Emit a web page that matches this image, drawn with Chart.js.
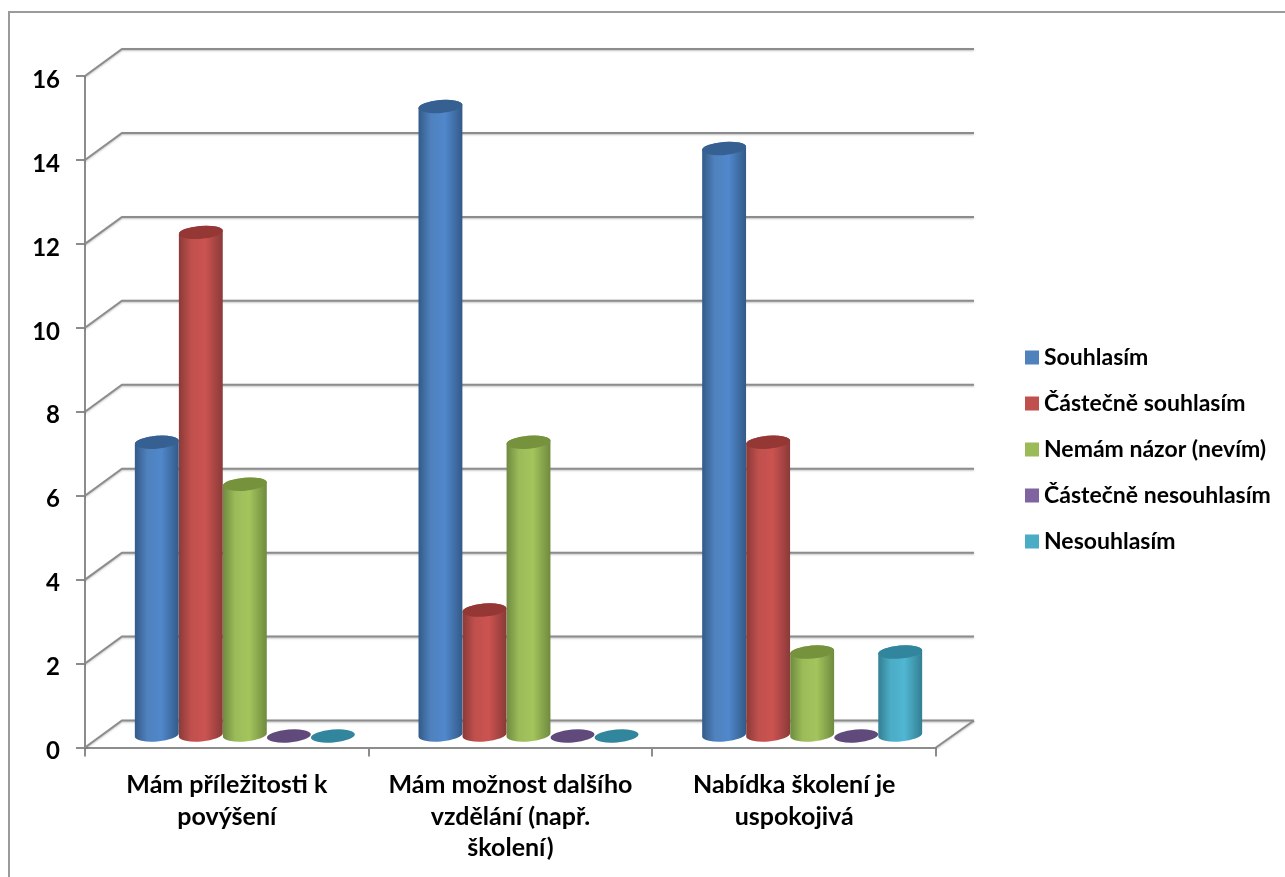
<!DOCTYPE html>
<html lang="cs">
<head>
<meta charset="utf-8">
<title>Školení a povýšení</title>
<style>
  html, body { margin: 0; padding: 0; background: #fff; overflow: hidden; }
  canvas { display: block; }
</style>
<script src="https://cdn.jsdelivr.net/npm/chart.js@4"></script>
</head>
<body>
<canvas id="chart" width="1285" height="877"></canvas>
<script>
const categories = [
  ["Mám příležitosti k", "povýšení"],
  ["Mám možnost dalšího", "vzdělání (např.", "školení)"],
  ["Nabídka školení je", "uspokojivá"],
];
const souhlasim = [7, 15, 14];
const castecneSouhlasim = [12, 3, 7];
const nemamNazor = [6, 7, 2];
const castecneNesouhlasim = [0, 0, 0];
const nesouhlasim = [0, 0, 2];

const FONT = "Lato, Carlito, sans-serif";
const AXIS_GRAY = "#8c8c8c";
const DEPTH_X = 37;
const DEPTH_Y = 27;

function makeDataset(label, data, color, dark, shade, glow) {
  return {
    label,
    data,
    backgroundColor: color,
    // the legend swatch is a tiny box with a thick stroke so the label sits close to it
    borderColor: color,
    borderWidth: 13,
    topColor: dark,
    sideColor: shade,
    glowColor: glow,
  };
}

// floor and back wall of the 3D plot
const wallsPlugin = {
  id: "walls",
  beforeDatasetsDraw(chart) {
    const { ctx, chartArea, scales } = chart;
    const left = chartArea.left;
    const right = chartArea.right;
    ctx.save();
    ctx.strokeStyle = AXIS_GRAY;
    ctx.lineWidth = 2;
    ctx.shadowColor = "rgba(0,0,0,0.25)";
    ctx.shadowBlur = 2;
    ctx.shadowOffsetY = 1;
    scales.y.ticks.forEach((tick) => {
      const y = scales.y.getPixelForValue(tick.value);
      ctx.beginPath();
      ctx.moveTo(left, y);
      ctx.lineTo(left + DEPTH_X, y - DEPTH_Y);
      ctx.lineTo(right + DEPTH_X + 1, y - DEPTH_Y);
      ctx.stroke();
    });
    const floorY = scales.y.getPixelForValue(0);
    ctx.beginPath();
    ctx.moveTo(right, floorY);
    ctx.lineTo(right + DEPTH_X + 1, floorY - DEPTH_Y);
    ctx.stroke();
    ctx.restore();
  },
  // outer chart frame, open towards the right and bottom page edges
  beforeDraw(chart) {
    const { ctx, width, height } = chart;
    ctx.save();
    ctx.strokeStyle = "#9a9a9a";
    ctx.lineWidth = 2;
    ctx.beginPath();
    ctx.moveTo(9, height);
    ctx.lineTo(9, 12);
    ctx.lineTo(width, 12);
    ctx.stroke();
    ctx.restore();
  },
};

// bars are drawn as cylinders from the elements Chart.js has already laid out
const cylinderPlugin = {
  id: "cylinders",
  beforeDatasetDraw(chart, args) {
    const { ctx } = chart;
    const dataset = chart.data.datasets[args.index];
    args.meta.data.forEach((bar) => {
      const cx = bar.x + 18;
      const bottom = bar.base - 11.5;
      const top = bar.y - 11.5;
      const rx = bar.width / 2;
      const ry = 6.5;
      const tilt = -0.08;
      ctx.save();
      if (top < bottom) {
        const grad = ctx.createLinearGradient(cx - rx, 0, cx + rx, 0);
        grad.addColorStop(0, dataset.sideColor);
        grad.addColorStop(0.28, dataset.backgroundColor);
        grad.addColorStop(0.6, dataset.glowColor);
        grad.addColorStop(1, dataset.sideColor);
        ctx.fillStyle = grad;
        ctx.beginPath();
        ctx.ellipse(cx, bottom, rx, ry, tilt, Math.PI, 0, true);
        ctx.ellipse(cx, top, rx, ry, tilt, 0, Math.PI, true);
        ctx.closePath();
        ctx.fill();
      }
      ctx.fillStyle = dataset.topColor;
      ctx.beginPath();
      ctx.ellipse(cx, top, rx, ry, tilt, 0, Math.PI * 2);
      ctx.fill();
      ctx.restore();
    });
    return false;
  },
};

// the legend sits in the free space right of the plot; the value axis labels hang a little low
const placementPlugin = {
  id: "placement",
  afterLayout(chart) {
    const legend = chart.legend;
    legend.left = 1008.5;
    legend.right = 1285;
    legend.top = 323;
    legend.bottom = 877;
    chart.scales.y.getLabelItems().forEach((item) => {
      item.options.translation[1] += 4;
    });
  },
};

new Chart(document.getElementById("chart"), {
  type: "bar",
  data: {
    labels: categories,
    datasets: [
      makeDataset("Souhlasím", souhlasim, "#4f81bd", "#376092", "#335a88", "#5088cc"),
      makeDataset("Částečně souhlasím", castecneSouhlasim, "#c0504d", "#953735", "#8a3a38", "#cb5350"),
      makeDataset("Nemám názor (nevím)", nemamNazor, "#9bbb59", "#76923c", "#6f8a3f", "#a3c55c"),
      makeDataset("Částečně nesouhlasím", castecneNesouhlasim, "#8064a2", "#604a7b", "#5c4875", "#8a6cae"),
      makeDataset("Nesouhlasím", nesouhlasim, "#4bacc6", "#31859c", "#337f93", "#50b6d2"),
    ],
  },
  plugins: [wallsPlugin, cylinderPlugin, placementPlugin],
  options: {
    responsive: false,
    animation: false,
    layout: { padding: { top: 76, right: 339, bottom: 0, left: 0 } },
    datasets: { bar: { categoryPercentage: 0.776, barPercentage: 1 } },
    plugins: {
      tooltip: { enabled: false },
      title: { display: false },
      legend: {
        display: true,
        position: "right",
        align: "start",
        maxWidth: 10,
        labels: {
          color: "#000",
          font: { family: FONT, size: 23, weight: "bold" },
          boxWidth: 1,
          boxHeight: 1,
          padding: 23,
        },
      },
    },
    scales: {
      x: {
        afterFit(scale) { scale.height = 129.5; },
        border: { display: true, color: AXIS_GRAY, width: 2 },
        grid: { drawOnChartArea: false, drawTicks: true, tickLength: 9, color: AXIS_GRAY, lineWidth: 2, offset: true },
        ticks: {
          color: "#000",
          font: { family: FONT, size: 25, weight: "bold", lineHeight: 1.26 },
          padding: 13,
          maxRotation: 0,
          autoSkip: false,
        },
      },
      y: {
        min: 0,
        max: 16,
        afterFit(scale) { scale.width = 85; },
        border: { display: true, color: AXIS_GRAY, width: 2 },
        grid: { drawOnChartArea: false, drawTicks: true, tickLength: 9, color: AXIS_GRAY, lineWidth: 2 },
        ticks: {
          stepSize: 2,
          color: "#000",
          font: { family: FONT, size: 24, weight: "bold" },
          padding: 16,
        },
      },
    },
  },
});
</script>
</body>
</html>
